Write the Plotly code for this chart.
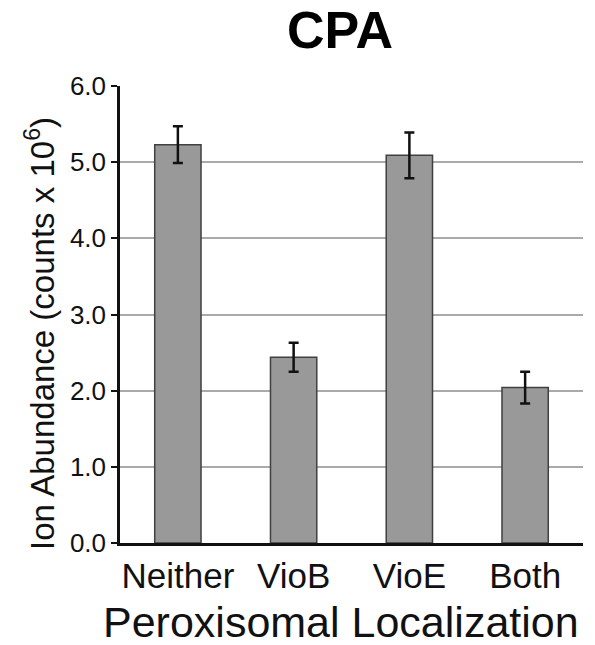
import plotly.graph_objects as go

categories = ["Neither", "VioB", "VioE", "Both"]
values = [5.23, 2.44, 5.09, 2.04]
errors = [0.24, 0.19, 0.30, 0.21]
ytick_vals = [0, 1, 2, 3, 4, 5, 6]
ytick_text = ["0.0", "1.0", "2.0", "3.0", "4.0", "5.0", "6.0"]
grid_vals = [1, 2, 3, 4, 5]

FONT = "Liberation Sans, Arial, Helvetica, sans-serif"
W, H = 595, 645
L, R, T, B = 120, 12, 86, 102
PW, PH = W - L - R, H - T - B

def px_x(x):
    return (x - L) / PW

def px_y(y):
    return (H - B - y) / PH

fig = go.Figure()
fig.add_trace(go.Bar(
    x=categories, y=values,
    marker=dict(color="#999999", line=dict(color="#404040", width=1.5)),
    error_y=dict(type="data", array=errors, visible=True, color="#111111",
                 thickness=2.5, width=5),
    yaxis="y",
))
fig.add_trace(go.Scatter(x=categories, y=values, yaxis="y2", mode="markers",
                         marker=dict(opacity=0), hoverinfo="skip", showlegend=False))

fig.update_layout(
    width=W, height=H,
    margin=dict(l=L, r=R, t=T, b=B),
    paper_bgcolor="white", plot_bgcolor="rgba(0,0,0,0)",
    showlegend=False,
    bargap=0.6,
    font=dict(family=FONT, color="#111111"),
    xaxis=dict(
        showline=True, linecolor="#111111", linewidth=2.5,
        ticks="", tickfont=dict(size=35, color="#111111"),
        showgrid=False, zeroline=False,
    ),
    yaxis=dict(
        range=[0, 6], tickvals=ytick_vals, ticktext=ytick_text,
        showline=True, linecolor="#111111", linewidth=2.5,
        ticks="outside", ticklen=6, tickwidth=2, tickcolor="#111111",
        tickfont=dict(size=26, color="#111111"),
        showgrid=False, zeroline=False, layer="above traces",
    ),
    yaxis2=dict(
        range=[0, 6], tickvals=grid_vals, overlaying="y", side="left",
        showgrid=True, gridcolor="#aaaaaa", gridwidth=2,
        showticklabels=False, ticks="", showline=False, zeroline=False,
        layer="below traces",
    ),
    annotations=[
        dict(text="<b>CPA</b>", xref="paper", yref="paper",
             x=px_x(340), y=px_y(30), showarrow=False,
             font=dict(size=52, family=FONT, color="#000000"),
             xanchor="center", yanchor="middle"),
        dict(text="Peroxisomal Localization", xref="paper", yref="paper",
             x=px_x(341), y=px_y(622), showarrow=False,
             font=dict(size=43, family=FONT, color="#111111"),
             xanchor="center", yanchor="middle"),
        dict(text="Ion Abundance (counts x 10<sup>6</sup>)", xref="paper", yref="paper",
             x=px_x(40), y=px_y(334), showarrow=False, textangle=-90,
             font=dict(size=33, family=FONT, color="#111111"),
             xanchor="center", yanchor="middle"),
    ],
)

fig.write_html("out.html")
